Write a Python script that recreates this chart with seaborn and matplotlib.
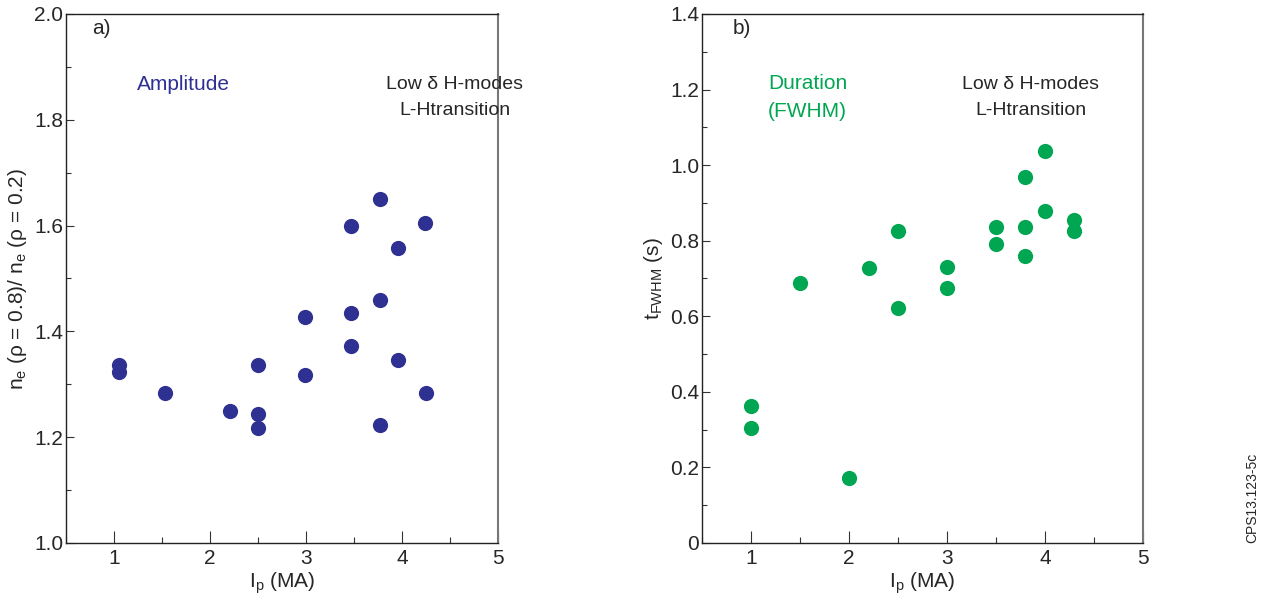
import matplotlib
matplotlib.use("Agg")
import matplotlib.pyplot as plt
from matplotlib.ticker import MultipleLocator, FixedLocator
import seaborn as sns
import pandas as pd

# Panel a) amplitude
ip_a = [1.05, 1.05, 1.535, 2.21, 2.50, 2.50, 2.50, 2.99, 2.99, 3.47, 3.47, 3.47,
        3.77, 3.77, 3.77, 3.955, 3.955, 4.24, 4.25]
amp = [1.337, 1.324, 1.283, 1.249, 1.336, 1.244, 1.218, 1.428, 1.317, 1.600, 1.435, 1.372,
       1.650, 1.459, 1.223, 1.558, 1.346, 1.605, 1.283]

# Panel b) duration
ip_b = [1.0, 1.0, 1.5, 2.0, 2.2, 2.5, 2.5, 3.0, 3.0, 3.5, 3.5, 3.8, 3.8, 3.8,
        4.0, 4.0, 4.3, 4.3]
fwhm = [0.362, 0.305, 0.688, 0.173, 0.727, 0.826, 0.622, 0.731, 0.674, 0.835, 0.790,
        0.969, 0.837, 0.760, 1.037, 0.879, 0.854, 0.825]

xticks = [1, 2, 3, 4, 5]
yticks_a = [1.0, 1.2, 1.4, 1.6, 1.8, 2.0]
yticks_b = [0, 0.2, 0.4, 0.6, 0.8, 1.0, 1.2, 1.4]
ylabels_b = ["0", "0.2", "0.4", "0.6", "0.8", "1.0", "1.2", "1.4"]

sns.set_style("ticks")
plt.rcParams['font.family'] = ['Liberation Sans', 'DejaVu Sans']
plt.rcParams['mathtext.fontset'] = 'custom'
plt.rcParams['mathtext.rm'] = 'Liberation Sans'

BLUE = "#2E3192"
GREEN = "#00A651"

fig = plt.figure(figsize=(12.66, 5.98), dpi=100)
axa = fig.add_axes([0.0521, 0.0920, 0.3412, 0.8846])
axb = fig.add_axes([0.5545, 0.0920, 0.3483, 0.8846])

dfa = pd.DataFrame({"ip": ip_a, "val": amp})
dfb = pd.DataFrame({"ip": ip_b, "val": fwhm})
sns.scatterplot(data=dfa, x="ip", y="val", ax=axa, color=BLUE, s=120, linewidth=0,
                marker="o", clip_on=False)
sns.scatterplot(data=dfb, x="ip", y="val", ax=axb, color=GREEN, s=120, linewidth=0,
                marker="o", clip_on=False)

fs = 15
for ax in (axa, axb):
    ax.set_xlim(0.5, 5)
    ax.xaxis.set_major_locator(FixedLocator(xticks))
    ax.xaxis.set_minor_locator(MultipleLocator(0.5))
    ax.yaxis.set_minor_locator(MultipleLocator(0.1))
    ax.tick_params(axis='x', which='major', direction='in', length=9, width=0.8,
                   labelsize=fs, pad=4, color='#333333')
    ax.tick_params(axis='x', which='minor', direction='in', length=4.5, width=0.8,
                   color='#333333')
    ax.tick_params(axis='y', which='major', direction='in', length=6, width=0.8,
                   labelsize=fs, pad=2, color='#333333')
    ax.tick_params(axis='y', which='minor', direction='in', length=3.5, width=0.8,
                   color='#333333')
    for side in ['top', 'left', 'bottom']:
        ax.spines[side].set_linewidth(1.0)
        ax.spines[side].set_color('#222222')
    ax.spines['right'].set_linewidth(1.5)
    ax.spines['right'].set_color('#777777')
    ax.set_xlabel(r"I$_\mathregular{p}$ (MA)", fontsize=fs, labelpad=2)

axa.set_ylim(1.0, 2.0)
axa.yaxis.set_major_locator(FixedLocator(yticks_a))
axa.set_yticklabels([f"{v:.1f}" for v in yticks_a])
axa.set_ylabel(r"n$_\mathregular{e}$ (ρ = 0.8)/ n$_\mathregular{e}$ (ρ = 0.2)",
               fontsize=fs, labelpad=4)

axb.set_ylim(0, 1.4)
axb.yaxis.set_major_locator(FixedLocator(yticks_b))
axb.set_yticklabels(ylabels_b)
axb.set_ylabel(r"t$_\mathregular{FWHM}$ (s)", fontsize=fs, labelpad=4)

axa.text(0.06, 0.973, "a)", transform=axa.transAxes, fontsize=fs, va='center', ha='left')
axb.text(0.07, 0.973, "b)", transform=axb.transAxes, fontsize=fs, va='center', ha='left')

axa.text(0.165, 0.866, "Amplitude", transform=axa.transAxes, fontsize=fs, color=BLUE,
         va='center', ha='left')
axa.text(0.9, 0.842, "Low δ H-modes\nL-Htransition", transform=axa.transAxes, fontsize=14,
         va='center', ha='center', linespacing=1.65)

axb.text(0.15, 0.842, "Duration\n(FWHM)", transform=axb.transAxes, fontsize=fs, color=GREEN,
         va='center', ha='left', linespacing=1.55)
axb.text(0.745, 0.842, "Low δ H-modes\nL-Htransition", transform=axb.transAxes, fontsize=14,
         va='center', ha='center', linespacing=1.65)

fig.text(0.9895, 0.092, "CPS13.123-5c", rotation=90, fontsize=10, ha='center', va='bottom')

fig.savefig("out.png", dpi=100)
